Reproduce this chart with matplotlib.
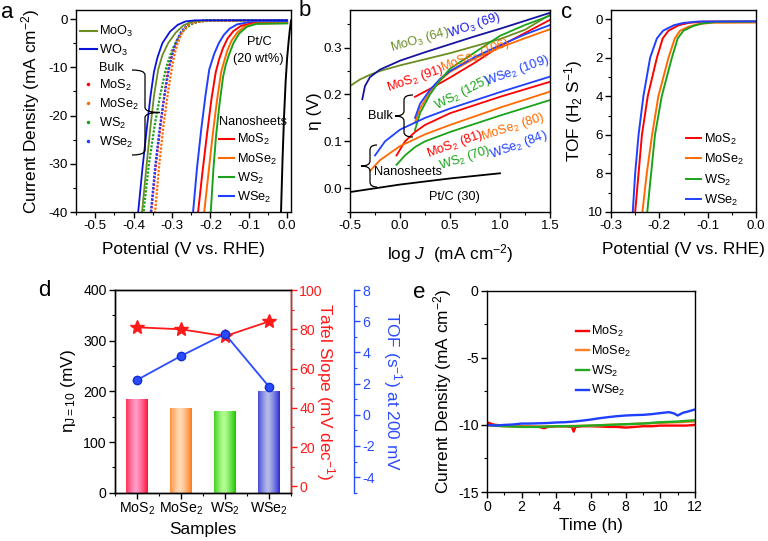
import numpy as np
import matplotlib
matplotlib.use("Agg")
import matplotlib.pyplot as plt
from matplotlib.path import Path
from matplotlib.patches import PathPatch
from matplotlib.lines import Line2D
from matplotlib.colors import LinearSegmentedColormap
from matplotlib.ticker import MultipleLocator

plt.rcParams.update({
    "font.family": ["Liberation Sans", "DejaVu Sans"],
    "mathtext.fontset": "custom",
    "mathtext.rm": "Liberation Sans",
    "mathtext.it": "Liberation Sans:italic",
    "mathtext.bf": "Liberation Sans:bold",
    "mathtext.default": "regular",
    "axes.unicode_minus": False,
    "axes.linewidth": 1.0,
})

# ---------------- data ----------------
# (a) polarization curves: potential (V vs RHE), current density (mA cm-2)
a_moo3_v = [0.0, -0.22, -0.25, -0.27, -0.29, -0.31, -0.325, -0.336, -0.347, -0.357, -0.367, -0.378]
a_moo3_j = [-0.3, -0.32, -0.6, -1.3, -2.8, -5.0, -7.5, -10.5, -16, -23, -31, -40]
a_wo3_v = [0.0, -0.24, -0.265, -0.285, -0.305, -0.325, -0.338, -0.347, -0.356, -0.366, -0.377, -0.388]
a_wo3_j = [-0.25, -0.27, -0.5, -1.2, -2.6, -5.0, -8.0, -11, -16, -23, -31, -40]

a_bulk_mos2_v = [0.0, -0.21, -0.24, -0.26, -0.275, -0.29, -0.30, -0.31, -0.321, -0.332, -0.343, -0.354]
a_bulk_mos2_j = [-0.3, -0.32, -0.6, -1.3, -2.7, -5.2, -7.5, -10.5, -16.5, -23.5, -31, -40]
a_bulk_mose2_v = [0.0, -0.215, -0.245, -0.262, -0.275, -0.286, -0.293, -0.30, -0.311, -0.322, -0.333, -0.344]
a_bulk_mose2_j = [-0.35, -0.38, -0.7, -1.5, -3.0, -5.2, -7.2, -10, -15.5, -22, -30, -40]
a_bulk_ws2_v = [0.0, -0.20, -0.23, -0.25, -0.268, -0.285, -0.30, -0.315, -0.33, -0.345, -0.36, -0.374]
a_bulk_ws2_j = [-0.3, -0.32, -0.55, -1.1, -2.2, -4.0, -6.5, -10, -15.5, -22, -30, -40]
a_bulk_wse2_v = [0.0, -0.21, -0.24, -0.26, -0.276, -0.29, -0.298, -0.307, -0.319, -0.331, -0.343, -0.355]
a_bulk_wse2_j = [-0.25, -0.28, -0.55, -1.2, -2.6, -5.0, -7.0, -10, -15.5, -22, -30, -40]

a_ns_mos2_v = [0.0, -0.09, -0.12, -0.14, -0.155, -0.167, -0.177, -0.186, -0.197, -0.209, -0.221, -0.232]
a_ns_mos2_j = [-0.8, -0.88, -1.4, -2.5, -4.0, -6.0, -8.3, -11, -16.5, -24, -32, -40]
a_ns_mose2_v = [0.0, -0.08, -0.11, -0.13, -0.145, -0.156, -0.165, -0.172, -0.183, -0.194, -0.205, -0.216]
a_ns_mose2_j = [-0.85, -0.92, -1.5, -2.8, -4.5, -6.6, -9.0, -11, -17, -24, -32, -40]
a_ns_ws2_v = [0.0, -0.08, -0.105, -0.125, -0.14, -0.152, -0.16, -0.167, -0.176, -0.185, -0.192, -0.199]
a_ns_ws2_j = [-0.9, -1.0, -1.6, -3.0, -5.0, -7.5, -9.5, -12, -17.5, -24, -31, -40]
a_ns_wse2_v = [0.0, -0.10, -0.13, -0.15, -0.165, -0.178, -0.19, -0.203, -0.213, -0.224, -0.235, -0.245]
a_ns_wse2_j = [-0.6, -0.68, -1.1, -2.0, -3.3, -5.0, -7.2, -10.5, -16, -23, -31, -40]

a_pt_v = [0.010, 0.009, 0.007, 0.004, 0.0, -0.004, -0.008, -0.012, -0.016]
a_pt_j = [-0.3, -1.0, -2.2, -4.5, -8.0, -13, -20, -29, -40]

# (b) Tafel plots: log J, overpotential (V)
b_wo3_x = [-0.377, -0.35, -0.3, -0.2, 0.0, 0.25, 0.5, 0.75, 1.0, 1.25, 1.5]
b_wo3_y = [0.19, 0.218, 0.237, 0.253, 0.272, 0.29, 0.307, 0.324, 0.34, 0.357, 0.374]
b_moo3_x = [-0.5, -0.4, -0.3, -0.2, 0.0, 0.25, 0.5, 0.75, 1.0, 1.25, 1.5]
b_moo3_y = [0.218, 0.232, 0.242, 0.25, 0.262, 0.275, 0.288, 0.303, 0.318, 0.338, 0.37]
b_bulk_mos2_x = [0.15, 0.3, 0.5, 0.75, 1.0, 1.25, 1.5]
b_bulk_mos2_y = [0.195, 0.212, 0.236, 0.268, 0.303, 0.331, 0.359]
b_bulk_mose2_x = [0.15, 0.2, 0.3, 0.4, 0.5, 0.75, 1.0, 1.25, 1.5]
b_bulk_mose2_y = [0.14, 0.17, 0.205, 0.23, 0.248, 0.277, 0.30, 0.32, 0.339]
b_bulk_ws2_x = [0.15, 0.2, 0.3, 0.4, 0.5, 0.75, 1.0, 1.25, 1.5]
b_bulk_ws2_y = [0.124, 0.16, 0.20, 0.23, 0.255, 0.29, 0.325, 0.348, 0.368]
b_bulk_wse2_x = [0.15, 0.2, 0.3, 0.4, 0.5, 0.75, 1.0, 1.25, 1.5]
b_bulk_wse2_y = [0.15, 0.18, 0.21, 0.233, 0.25, 0.28, 0.305, 0.328, 0.348]
b_ns_mos2_x = [-0.035, 0.05, 0.15, 0.25, 0.5, 1.0, 1.5]
b_ns_mos2_y = [0.07, 0.10, 0.12, 0.135, 0.16, 0.195, 0.227]
b_ns_mose2_x = [-0.3, -0.2, 0.0, 0.25, 0.5, 1.0, 1.5]
b_ns_mose2_y = [0.037, 0.06, 0.09, 0.115, 0.135, 0.172, 0.206]
b_ns_ws2_x = [-0.035, 0.05, 0.15, 0.25, 0.5, 1.0, 1.5]
b_ns_ws2_y = [0.05, 0.07, 0.088, 0.10, 0.12, 0.155, 0.188]
b_ns_wse2_x = [-0.25, -0.15, 0.0, 0.25, 0.5, 1.0, 1.5]
b_ns_wse2_y = [0.07, 0.10, 0.125, 0.15, 0.17, 0.205, 0.238]
b_pt_x = [-0.5, 0.0, 0.5, 1.0]
b_pt_y = [-0.008, 0.008, 0.021, 0.032]

# (c) TOF vs potential
c_mos2_v = [0.0, -0.11, -0.14, -0.16, -0.181, -0.193, -0.205, -0.224, -0.236, -0.243, -0.25]
c_mos2_t = [0.12, 0.13, 0.2, 0.32, 0.6, 1.0, 2, 4, 6, 8, 10]
c_mose2_v = [0.0, -0.09, -0.12, -0.14, -0.157, -0.168, -0.181, -0.202, -0.215, -0.226, -0.235]
c_mose2_t = [0.18, 0.19, 0.26, 0.4, 0.6, 1.0, 2, 4, 6, 8, 10]
c_ws2_v = [0.0, -0.08, -0.11, -0.13, -0.15, -0.162, -0.174, -0.195, -0.209, -0.217, -0.225]
c_ws2_t = [0.13, 0.14, 0.22, 0.36, 0.6, 1.0, 2, 4, 6, 8, 10]
c_wse2_v = [0.0, -0.12, -0.15, -0.17, -0.192, -0.205, -0.219, -0.233, -0.243, -0.25, -0.255]
c_wse2_t = [0.12, 0.13, 0.2, 0.32, 0.6, 1.0, 2, 4, 6, 8, 10]

# (d) summary
d_samples = ["MoS$_2$", "MoSe$_2$", "WS$_2$", "WSe$_2$"]
d_eta10 = [184, 168, 162, 201]
d_tafel = [81, 80, 76.5, 84]
d_tof = [2.23, 3.77, 5.18, 1.8]

# (e) stability
e_mos2_t = [0, 0.3, 0.5, 1, 1.5, 2, 2.5, 3, 3.3, 3.5, 4, 4.5, 4.9, 5.0, 5.1, 5.5, 6, 6.5, 7, 7.5, 8, 8.5, 9, 9.5, 10, 10.5, 11, 11.5, 12]
e_mos2_j = [-9.8, -9.95, -10.0, -10.05, -10.1, -10.1, -10.12, -10.15, -10.25, -10.15, -10.1, -10.1, -10.15, -10.5, -10.15, -10.1, -10.1, -10.12, -10.15, -10.15, -10.2, -10.15, -10.1, -10.1, -10.05, -10.05, -10.05, -10.05, -10.0]
e_mose2_t = [0, 1, 2, 3, 4, 5, 6, 7, 8, 9, 10, 11, 12]
e_mose2_j = [-10.05, -10.1, -10.12, -10.12, -10.1, -10.08, -10.05, -10.0, -9.95, -9.9, -9.85, -9.8, -9.75]
e_ws2_t = [0, 0.5, 1, 2, 3, 4, 5, 6, 7, 8, 9, 10, 11, 12]
e_ws2_j = [-10.0, -10.05, -10.1, -10.15, -10.15, -10.1, -10.1, -10.05, -10.0, -9.95, -9.9, -9.8, -9.75, -9.65]
e_wse2_t = [0, 0.5, 1, 1.5, 2, 2.5, 3, 3.5, 4, 4.5, 5, 5.5, 6, 6.5, 7, 7.5, 8, 8.5, 9, 9.5, 10, 10.5, 10.8, 11, 11.3, 11.6, 12]
e_wse2_j = [-10.0, -10.05, -10.0, -9.97, -9.9, -9.9, -9.88, -9.86, -9.82, -9.8, -9.75, -9.68, -9.6, -9.5, -9.42, -9.35, -9.3, -9.27, -9.25, -9.2, -9.12, -9.05, -9.15, -9.3, -9.1, -9.0, -8.85]

# ---------------- style ----------------
RED, ORANGE, GREEN, BLUE = "#ff0000", "#ff6a00", "#1aa31a", "#2040ff"
OLIVE, WO3BLUE, NAVY = "#6b8e23", "#0a14d8", "#14149e"

W, H = 768.0, 541.0
fig = plt.figure(figsize=(7.68, 5.41), dpi=100)


def box(l, t, r, b):
    return [l / W, 1 - b / H, (r - l) / W, (b - t) / H]


def fxy(x, y):
    return (x / W, 1 - y / H)


def style(ax, xmaj, xmin, ymaj, ymin, lsize=9.6):
    ax.xaxis.set_major_locator(MultipleLocator(xmaj))
    ax.xaxis.set_minor_locator(MultipleLocator(xmin))
    ax.yaxis.set_major_locator(MultipleLocator(ymaj))
    ax.yaxis.set_minor_locator(MultipleLocator(ymin))
    ax.tick_params(which="major", direction="out", length=4, width=1, labelsize=lsize, pad=2)
    ax.tick_params(which="minor", direction="out", length=2.2, width=0.8)


def brace(x, y0, y1, tip, hook, r=5):
    ym = (y0 + y1) / 2
    pts = [(x + hook, y0), (x, y0), (x, y0 + r), (x, ym - r), (x, ym), (x + tip, ym),
           (x, ym), (x, ym + r), (x, y1 - r), (x, y1), (x + hook, y1)]
    codes = [Path.MOVETO, Path.CURVE3, Path.CURVE3, Path.LINETO, Path.CURVE3, Path.CURVE3,
             Path.CURVE3, Path.CURVE3, Path.LINETO, Path.CURVE3, Path.CURVE3]
    fig.add_artist(PathPatch(Path([fxy(*p) for p in pts], codes), transform=fig.transFigure,
                             fill=False, lw=0.9, ec="black"))


LBL = 12.4

# ---------------- panel a ----------------
axa = fig.add_axes(box(76, 10, 291, 212))
dot = dict(ls=(0, (1.0, 0.7)), lw=1.6)
axa.plot(a_bulk_ws2_v, a_bulk_ws2_j, color=GREEN, **dot)
axa.plot(a_bulk_mos2_v, a_bulk_mos2_j, color=RED, **dot)
axa.plot(a_bulk_wse2_v, a_bulk_wse2_j, color=BLUE, **dot)
axa.plot(a_bulk_mose2_v, a_bulk_mose2_j, color=ORANGE, **dot)
axa.plot(a_moo3_v, a_moo3_j, color=OLIVE, lw=1.3)
axa.plot(a_wo3_v, a_wo3_j, color=WO3BLUE, lw=1.3)
axa.plot(a_ns_wse2_v, a_ns_wse2_j, color=BLUE, lw=1.4)
axa.plot(a_ns_mos2_v, a_ns_mos2_j, color=RED, lw=1.4)
axa.plot(a_ns_mose2_v, a_ns_mose2_j, color=ORANGE, lw=1.4)
axa.plot(a_ns_ws2_v, a_ns_ws2_j, color=GREEN, lw=1.4)
axa.plot(a_pt_v, a_pt_j, color="black", lw=1.4)
axa.set_xlim(-0.55, 0.01)
axa.set_ylim(-40, 1.87)
style(axa, 0.1, 0.05, 10, 5)
axa.set_xlabel("Potential (V vs. RHE)", fontsize=LBL)
axa.set_ylabel("Current Density (mA cm$^{-2}$)", fontsize=LBL)
axa.xaxis.set_label_coords(0.5, -0.15)
axa.yaxis.set_label_coords(-0.16, 0.5)

h1 = [Line2D([], [], color=OLIVE, lw=1.5), Line2D([], [], color=WO3BLUE, lw=1.5),
      Line2D([], [], color="none"),
      Line2D([], [], color=RED, ls="none", marker=".", ms=3),
      Line2D([], [], color=ORANGE, ls="none", marker=".", ms=3),
      Line2D([], [], color=GREEN, ls="none", marker=".", ms=3),
      Line2D([], [], color=BLUE, ls="none", marker=".", ms=3)]
l1 = ["MoO$_3$", "WO$_3$", "Bulk", "MoS$_2$", "MoSe$_2$", "WS$_2$", "WSe$_2$"]
leg1 = axa.legend(h1, l1, loc="upper left", bbox_to_anchor=fxy(80, 24), bbox_transform=fig.transFigure,
                  frameon=False, fontsize=9.2, handlelength=1.3, handletextpad=0.2,
                  labelspacing=0.3, borderpad=0, borderaxespad=0)
axa.add_artist(leg1)
h2 = [Line2D([], [], color=c, lw=1.5) for c in (RED, ORANGE, GREEN, BLUE)]
axa.legend(h2, ["MoS$_2$", "MoSe$_2$", "WS$_2$", "WSe$_2$"], title="Nanosheets", title_fontsize=9.2,
           alignment="left", loc="lower left", bbox_to_anchor=fxy(219, 205), bbox_transform=fig.transFigure,
           frameon=False, fontsize=9.2, handlelength=1.2, handletextpad=0.2, labelspacing=0.32,
           borderpad=0, borderaxespad=0)
fig.text(*fxy(259, 42), "Pt/C", fontsize=9.2, ha="center", va="center")
fig.text(*fxy(258, 59), "(20 wt%)", fontsize=9.2, ha="center", va="center")
brace(145, 70, 155, 15, -13)

# ---------------- panel b ----------------
axb = fig.add_axes(box(350, 10, 550, 212))
axb.plot(b_moo3_x, b_moo3_y, color=OLIVE, lw=1.3)
axb.plot(b_wo3_x, b_wo3_y, color=NAVY, lw=1.3)
axb.plot(b_bulk_mos2_x, b_bulk_mos2_y, color=RED, lw=1.3)
axb.plot(b_bulk_mose2_x, b_bulk_mose2_y, color=ORANGE, lw=1.3)
axb.plot(b_bulk_wse2_x, b_bulk_wse2_y, color=BLUE, lw=1.3)
axb.plot(b_bulk_ws2_x, b_bulk_ws2_y, color=GREEN, lw=1.3)
axb.plot(b_ns_wse2_x, b_ns_wse2_y, color=BLUE, lw=1.3)
axb.plot(b_ns_mos2_x, b_ns_mos2_y, color=RED, lw=1.3)
axb.plot(b_ns_mose2_x, b_ns_mose2_y, color=ORANGE, lw=1.3)
axb.plot(b_ns_ws2_x, b_ns_ws2_y, color=GREEN, lw=1.3)
axb.plot(b_pt_x, b_pt_y, color="black", lw=1.3)
axb.set_xlim(-0.5, 1.5)
axb.set_ylim(-0.0505, 0.38)
style(axb, 0.5, 0.25, 0.1, 0.05)
axb.set_xlabel("log $\\mathit{J}$  (mA cm$^{-2}$)", fontsize=LBL)
axb.set_ylabel("η (V)", fontsize=LBL)
axb.xaxis.set_label_coords(0.5, -0.15)
axb.yaxis.set_label_coords(-0.14, 0.5)
ann = [("MoO$_3$ (64)", 420, 40, 16, OLIVE), ("WO$_3$ (69)", 474, 25, 19, "#1a1ae6"),
       ("MoS$_2$ (91)", 415, 79, 19, RED), ("MoSe$_2$ (106)", 475, 55, 21, ORANGE),
       ("WS$_2$ (125)", 462, 93, 27, GREEN), ("WSe$_2$ (109)", 517, 71, 20, BLUE),
       ("MoS$_2$ (81)", 455, 144, 20, RED), ("MoSe$_2$ (80)", 513, 127, 18, ORANGE),
       ("WS$_2$ (70)", 465, 158, 18, GREEN), ("WSe$_2$ (84)", 519, 145, 20, BLUE)]
for s, x, y, r, c in ann:
    fig.text(*fxy(x, y), s, fontsize=9.2, color=c, rotation=r, ha="center", va="center",
             rotation_mode="anchor")
fig.text(*fxy(408, 172), "Nanosheets", fontsize=9.2, ha="center", va="center")
fig.text(*fxy(454, 197), "Pt/C (30)", fontsize=9.2, ha="center", va="center")
fig.text(*fxy(380, 116), "Bulk", fontsize=9.2, ha="center", va="center")
brace(404, 95, 137, -9, 9)
brace(370, 145, 187, -9, 7)

# ---------------- panel c ----------------
axc = fig.add_axes(box(611, 10, 756, 212))
axc.plot(c_mos2_v, c_mos2_t, color=RED, lw=1.4, label="MoS$_2$")
axc.plot(c_mose2_v, c_mose2_t, color=ORANGE, lw=1.4, label="MoSe$_2$")
axc.plot(c_ws2_v, c_ws2_t, color=GREEN, lw=1.4, label="WS$_2$")
axc.plot(c_wse2_v, c_wse2_t, color=BLUE, lw=1.4, label="WSe$_2$")
axc.set_xlim(-0.3, 0.0)
axc.set_ylim(10, -0.47)
style(axc, 0.1, 0.05, 2, 1)
axc.set_xlabel("Potential (V vs. RHE)", fontsize=LBL)
axc.set_ylabel("TOF (H$_2$ S$^{-1}$)", fontsize=LBL)
axc.xaxis.set_label_coords(0.5, -0.15)
axc.yaxis.set_label_coords(-0.18, 0.5)
axc.legend(loc="lower left", bbox_to_anchor=fxy(686, 208), bbox_transform=fig.transFigure,
           frameon=False, fontsize=9.2, handlelength=1.2, handletextpad=0.2, labelspacing=0.42,
           borderpad=0, borderaxespad=0)

# ---------------- panel d ----------------
axd = fig.add_axes(box(115, 290, 291, 492.7))
xpos = np.arange(len(d_samples))
bars = axd.bar(xpos, d_eta10, width=0.48, color="none", zorder=2)
grad_cols = [("#ff1436", "#ff9ccb"), ("#ff7a1a", "#ffdcb8"), ("#20c400", "#b6ff96"), ("#2a2ad6", "#b4bce8")]
prof = np.abs(np.linspace(0, 1, 64) - 0.45) / 0.55
prof = np.clip(prof, 0, 1) ** 1.3
for b, (dk, lt) in zip(bars, grad_cols):
    cmap = LinearSegmentedColormap.from_list("g", [lt, dk])
    x0, w, hgt = b.get_x(), b.get_width(), b.get_height()
    im = axd.imshow(prof[None, :], extent=[x0, x0 + w, 0, hgt], aspect="auto", cmap=cmap,
                    vmin=0, vmax=1, zorder=2, interpolation="bilinear")
    im.set_clip_path(b)
axd.set_xlim(-0.5, 3.5)
axd.set_ylim(0, 400)
axd.xaxis.set_major_locator(plt.FixedLocator(xpos))
axd.xaxis.set_minor_locator(MultipleLocator(0.5))
axd.set_xticklabels(d_samples)
axd.yaxis.set_major_locator(MultipleLocator(100))
axd.yaxis.set_minor_locator(MultipleLocator(50))
axd.tick_params(which="major", direction="out", length=4, width=1, labelsize=10.2, pad=2)
axd.tick_params(which="minor", direction="out", length=2.2, width=0.8)
axd.set_xlabel("Samples", fontsize=LBL)
axd.set_ylabel("η$_{J=10}$ (mV)", fontsize=LBL)
axd.xaxis.set_label_coords(0.5, -0.145)
axd.yaxis.set_label_coords(-0.21, 0.5)

RRED, TBLUE = "#ff1a1a", "#2b4bff"
axr = axd.twinx()
axr.plot(xpos, d_tafel, color=RRED, lw=1.3, marker="*", ms=10, zorder=5)
axr.set_ylim(-3.2, 100)
axr.set_xlim(-0.5, 3.5)
axr.yaxis.set_major_locator(MultipleLocator(20))
axr.yaxis.set_minor_locator(MultipleLocator(10))
axr.tick_params(axis="y", which="major", direction="out", length=4, width=1, labelsize=10.2,
                colors=RRED, pad=2)
axr.tick_params(axis="y", which="minor", direction="out", length=2.2, width=0.8, colors=RRED)
axr.spines["right"].set_color(RRED)
axr.set_ylabel("Tafel Slope (mV dec$^{-1}$)", fontsize=LBL, color=RRED, rotation=270, va="center")
axr.yaxis.set_label_coords(1.193, 0.5)

axt = axd.twinx()
axt.spines["right"].set_position(("axes", 1.358))
for s in ("top", "left", "bottom"):
    axt.spines[s].set_visible(False)
axt.plot(xpos, d_tof, color=TBLUE, lw=1.3, marker="o", ms=6, mec="#1030d0", zorder=6)
axt.set_ylim(-5, 8)
axt.set_xlim(-0.5, 3.5)
axt.yaxis.set_major_locator(MultipleLocator(2))
axt.yaxis.set_minor_locator(MultipleLocator(1))
axt.tick_params(axis="y", which="major", direction="out", length=4, width=1, labelsize=10.2,
                colors=TBLUE, pad=2)
axt.tick_params(axis="y", which="minor", direction="out", length=2.2, width=0.8, colors=TBLUE)
axt.spines["right"].set_color(TBLUE)
axt.set_ylabel("TOF (s$^{-1}$) at 200 mV", fontsize=LBL, color=TBLUE, rotation=270, va="center")
axt.yaxis.set_label_coords(1.574, 0.5)

# ---------------- panel e ----------------
axe = fig.add_axes(box(487, 290.7, 695, 492))
axe.plot(e_mos2_t, e_mos2_j, color=RED, lw=1.7, label="MoS$_2$")
axe.plot(e_mose2_t, e_mose2_j, color="#ff7f27", lw=1.7, label="MoSe$_2$")
axe.plot(e_ws2_t, e_ws2_j, color="#22aa22", lw=1.7, label="WS$_2$")
axe.plot(e_wse2_t, e_wse2_j, color="#1f3fff", lw=1.7, label="WSe$_2$")
axe.set_xlim(0, 12)
axe.set_ylim(-15, 0)
style(axe, 2, 1, 5, 2.5, lsize=10.2)
axe.set_xlabel("Time (h)", fontsize=LBL)
axe.set_ylabel("Current Density (mA cm$^{-2}$)", fontsize=LBL)
axe.xaxis.set_label_coords(0.5, -0.13)
axe.yaxis.set_label_coords(-0.159, 0.5)
axe.legend(loc="upper left", bbox_to_anchor=fxy(576, 324), bbox_transform=fig.transFigure,
           frameon=False, fontsize=9.2, handlelength=1.0, handletextpad=0.2, labelspacing=0.36,
           borderpad=0, borderaxespad=0)

# panel letters
for s, x, y in [("a", 7, 13), ("b", 305, 11), ("c", 567, 13), ("d", 44, 290), ("e", 419, 293)]:
    fig.text(*fxy(x, y), s, fontsize=16, ha="center", va="center")

fig.savefig("out.png", dpi=100)
